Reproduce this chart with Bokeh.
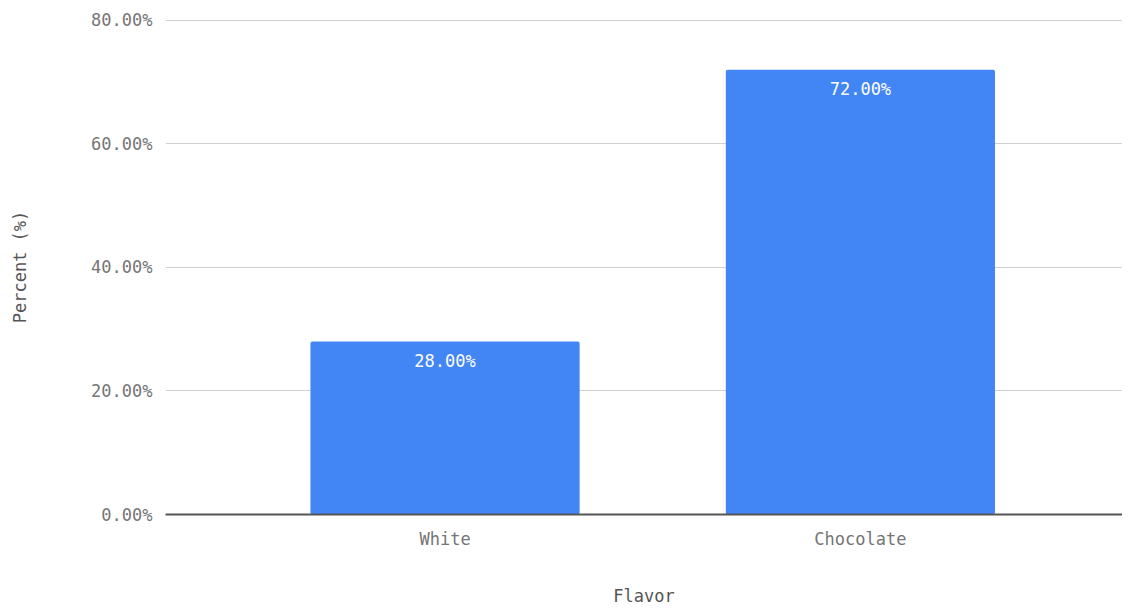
import numpy as np
from bokeh.plotting import figure
from bokeh.models import ColumnDataSource, Range1d, FixedTicker, NumeralTickFormatter
from bokeh.core.properties import value
from bokeh.embed import file_html
from bokeh.resources import INLINE

flavors = ["White", "Chocolate"]
percents = [0.28, 0.72]
y_ticks = [0.0, 0.2, 0.4, 0.6, 0.8]

xs = np.arange(len(flavors)) + 0.5
labels = [f"{v * 100:.2f}%" for v in percents]
src = ColumnDataSource(dict(x=xs, top=percents, label=labels))

FONT = "DejaVu Sans Mono"
FS = "17px"
p = figure(width=1122, height=608, output_backend="svg", toolbar_location=None,
           x_range=Range1d(-0.173, 2.131), y_range=Range1d(0, 0.8015),
           min_border_left=165, min_border_right=0, min_border_top=19, min_border_bottom=92)
p.outline_line_color = None
p.background_fill_color = "white"

p.vbar(x="x", top="top", bottom=0, width=0.648, source=src,
       fill_color="#4285F4", line_color=None, border_radius=2)
p.text(x="x", y="top", text="label", source=src, text_align="center",
       text_baseline="top", y_offset=9, text_color="white",
       text_font=value(FONT), text_font_size=FS)

# y axis
p.yaxis.ticker = FixedTicker(ticks=y_ticks)
p.yaxis.formatter = NumeralTickFormatter(format="0.00%")
p.yaxis.axis_line_color = None
p.yaxis.major_tick_line_color = None
p.yaxis.minor_tick_line_color = None
p.yaxis.major_label_standoff = 7
p.yaxis.major_label_text_font = FONT
p.yaxis.major_label_text_font_size = FS
p.yaxis.major_label_text_color = "#757575"
p.yaxis.axis_label = "Percent (%)"
p.yaxis.axis_label_text_font = FONT
p.yaxis.axis_label_text_font_size = FS
p.yaxis.axis_label_text_font_style = "normal"
p.yaxis.axis_label_text_color = "#555555"
p.yaxis.axis_label_standoff = 58

# x axis
p.xaxis.ticker = FixedTicker(ticks=list(xs))
p.xaxis.major_label_overrides = {float(x): f for x, f in zip(xs, flavors)}
p.xaxis.axis_line_color = "#555555"
p.xaxis.axis_line_width = 2
p.xaxis.major_tick_line_color = None
p.xaxis.minor_tick_line_color = None
p.xaxis.major_label_standoff = 8
p.xaxis.major_label_text_font = FONT
p.xaxis.major_label_text_font_size = FS
p.xaxis.major_label_text_color = "#757575"
p.xaxis.axis_label = "Flavor"
p.xaxis.axis_label_text_font = FONT
p.xaxis.axis_label_text_font_size = FS
p.xaxis.axis_label_text_font_style = "normal"
p.xaxis.axis_label_text_color = "#555555"
p.xaxis.axis_label_standoff = 34

p.xgrid.grid_line_color = None
p.ygrid.grid_line_color = "#d0d0d0"
p.ygrid.grid_line_width = 1

open("out.html", "w").write(file_html(p, INLINE))
